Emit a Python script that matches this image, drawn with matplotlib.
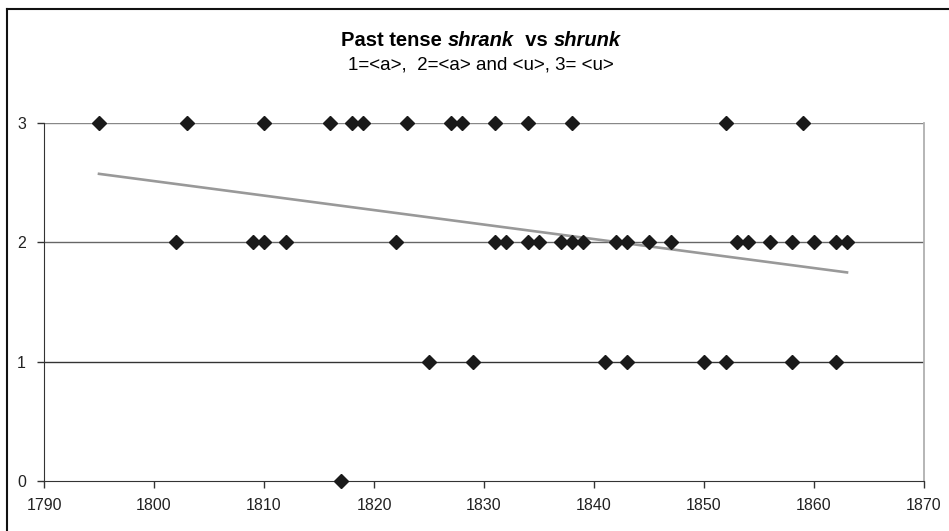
import numpy as np
import matplotlib
matplotlib.use('Agg')
import matplotlib.pyplot as plt
from matplotlib.lines import Line2D

plt.rcParams['font.family'] = ['Liberation Sans', 'DejaVu Sans']

# data: year of attestation and form code
years_3 = [1795, 1803, 1810, 1816, 1818, 1819, 1823, 1827, 1828, 1831, 1834, 1838, 1852, 1859]
years_2 = [1802, 1809, 1810, 1812, 1822, 1831, 1832, 1834, 1835, 1837, 1838, 1839, 1842, 1843,
           1845, 1847, 1853, 1854, 1856, 1858, 1860, 1862, 1863]
years_1 = [1825, 1829, 1841, 1843, 1850, 1852, 1858, 1862]
years_0 = [1817]

x = np.array(years_3 + years_2 + years_1 + years_0, dtype=float)
y = np.array([3]*len(years_3) + [2]*len(years_2) + [1]*len(years_1) + [0]*len(years_0), dtype=float)

W, H = 949, 531
fig = plt.figure(figsize=(W/100, H/100), dpi=100)
ax = fig.add_axes([44/W, 1-481/H, (924-44)/W, (481-123)/H])

ax.set_xlim(1790, 1870)
ax.set_ylim(0, 3)
ax.set_xticks(range(1790, 1871, 10))
ax.set_yticks([0, 1, 2, 3])
for lvl, col in [(1, '#333333'), (2, '#666666'), (3, '#888888')]:
    ax.axhline(lvl, color=col, lw=1.0, zorder=1)

# linear trend line over the data range
k, b = np.polyfit(x, y, 1)
xt = np.array([x.min(), x.max()])
ax.plot(xt, k*xt + b, color='#999999', lw=1.9, zorder=2)

ax.plot(x, y, linestyle='none', marker='D', ms=6.8, color='#1a1a1a', zorder=3, clip_on=False)

ax.spines['top'].set_visible(False)
ax.spines['right'].set_color('#b0b0b0')
ax.spines['right'].set_linewidth(1.3)
ax.spines['left'].set_color('#333333')
ax.spines['bottom'].set_color('#333333')
ax.tick_params(direction='out', length=5, width=1, colors='#333333', labelsize=11.5,
               labelcolor='#222222')
ax.tick_params(axis='x', pad=7)
ax.tick_params(axis='y', pad=8)

# title with italic words, composed from pieces
renderer = fig.canvas.get_renderer()
pieces = [('Past tense ', 'normal'), ('shrank', 'italic'), ('  vs ', 'normal'), ('shrunk', 'italic')]
texts = []
for s, st in pieces:
    t = fig.text(0, 1-46/H, s, fontsize=14.5, fontweight='bold', style=st, va='baseline', ha='left')
    texts.append(t)
widths = [t.get_window_extent(renderer).width for t in texts]
x0 = 481 - sum(widths)/2
for t, w in zip(texts, widths):
    t.set_x(x0/W)
    x0 += w

fig.text(481/W, 1-70/H, '1=<a>,  2=<a> and <u>, 3= <u>', fontsize=13.5, ha='center', va='baseline')

# outer chart border (left and top edges visible)
fig.add_artist(Line2D([7/W, 7/W], [0, 1-9/H], transform=fig.transFigure, color='#111111', lw=1.5))
fig.add_artist(Line2D([7/W, 1], [1-9/H, 1-9/H], transform=fig.transFigure, color='#111111', lw=1.5))

fig.savefig('out.png', dpi=100)
